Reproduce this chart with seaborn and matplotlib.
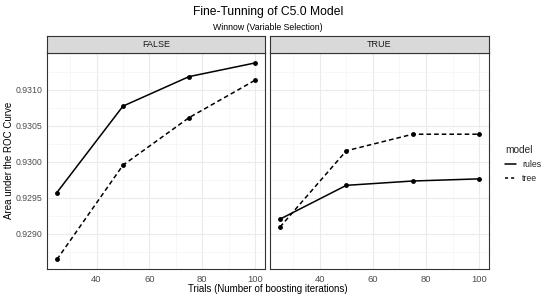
import numpy as np
import pandas as pd
import matplotlib
matplotlib.use("Agg")
import matplotlib.pyplot as plt
from matplotlib.lines import Line2D
import seaborn as sns

trials = [25, 50, 75, 100]
rules_false = [0.92957, 0.93077, 0.93118, 0.93137]
tree_false = [0.92864, 0.92995, 0.93061, 0.93113]
rules_true = [0.92920, 0.92967, 0.92973, 0.92976]
tree_true = [0.92909, 0.93015, 0.93038, 0.93038]
panels = ["FALSE", "TRUE"]

df = pd.concat([
    pd.DataFrame({"trials": trials, "auc": rules_false, "model": "rules", "winnow": "FALSE"}),
    pd.DataFrame({"trials": trials, "auc": tree_false, "model": "tree", "winnow": "FALSE"}),
    pd.DataFrame({"trials": trials, "auc": rules_true, "model": "rules", "winnow": "TRUE"}),
    pd.DataFrame({"trials": trials, "auc": tree_true, "model": "tree", "winnow": "TRUE"}),
])

sns.set_style("white")
plt.rcParams["font.family"] = ["Liberation Sans", "DejaVu Sans"]

W, H = 552, 299
fig = plt.figure(figsize=(W / 100, H / 100), dpi=100)

def box(x0, y0, x1, y1):
    return [x0 / W, 1 - y1 / H, (x1 - x0) / W, (y1 - y0) / H]

lefts = [(47, 265), (270, 489)]
top, bottom = 52.5, 269
strip_top = 36

ylim = (0.928508, 0.931515)
xlim = (21.25, 103.75)

for i, (name, (x0, x1)) in enumerate(zip(panels, lefts)):
    ax = fig.add_axes(box(x0, top, x1, bottom))
    sub = df[df["winnow"] == name]
    sns.lineplot(data=sub, x="trials", y="auc", style="model",
                 dashes={"rules": "", "tree": (3, 2)},
                 markers={"rules": "o", "tree": "o"}, color="black",
                 markersize=3.5, markeredgewidth=0, linewidth=1.1,
                 legend=False, ax=ax)
    ax.set_xlim(xlim)
    ax.set_ylim(ylim)
    ax.set_xticks([40, 60, 80, 100])
    ax.set_xticks([30, 50, 70, 90], minor=True)
    ax.set_yticks([0.9290, 0.9295, 0.9300, 0.9305, 0.9310])
    ax.set_yticks([0.92875, 0.92925, 0.92975, 0.93025, 0.93075, 0.93125], minor=True)
    ax.grid(True, which="major", color="#ebebeb", linewidth=0.8)
    ax.grid(True, which="minor", color="#f4f4f4", linewidth=0.5)
    ax.set_axisbelow(True)
    for s in ax.spines.values():
        s.set_color("#333333")
        s.set_linewidth(0.8)
    ax.tick_params(axis="x", which="major", length=2.5, width=0.6,
                   color="#333333", labelsize=6.8, labelcolor="#4d4d4d", pad=2)
    ax.tick_params(axis="y", which="major", length=2.5, width=0.6,
                   color="#333333", labelsize=6.3, labelcolor="#4d4d4d", pad=1)
    ax.tick_params(axis="both", which="minor", length=0)
    ax.set_xlabel("")
    ax.set_ylabel("")
    if i == 0:
        ax.set_yticklabels(["0.9290", "0.9295", "0.9300", "0.9305", "0.9310"])
    else:
        ax.tick_params(axis="y", which="major", labelleft=False, length=0)
    # strip
    sax = fig.add_axes(box(x0, strip_top, x1, top))
    sax.set_facecolor("#d9d9d9")
    sax.set_xticks([])
    sax.set_yticks([])
    for s in sax.spines.values():
        s.set_color("#333333")
        s.set_linewidth(0.8)
    sax.text(0.5, 0.5, name, ha="center", va="center", fontsize=6.5,
             color="#1a1a1a", transform=sax.transAxes)

fig.text(268 / W, 1 - 12 / H, "Fine-Tunning of C5.0 Model", ha="center",
         va="center", fontsize=8.7, color="black")
fig.text(268 / W, 1 - 27 / H, "Winnow (Variable Selection)", ha="center",
         va="center", fontsize=6.3, color="black")
fig.text(268 / W, 1 - 289 / H, "Trials (Number of boosting iterations)",
         ha="center", va="center", fontsize=7, color="black")
fig.text(9 / W, 1 - 160 / H, "Area under the ROC Curve", ha="center",
         va="center", rotation=90, fontsize=7, color="black")

handles = [Line2D([], [], color="black", linewidth=1.1, linestyle="-"),
           Line2D([], [], color="black", linewidth=1.1, linestyle=(0, (2, 2)))]
fig.legend(handles, ["rules", "tree"], title="model", loc="upper left",
           bbox_to_anchor=(497 / W, 1 - 137 / H), frameon=False, fontsize=6.3,
           title_fontsize=7.3, handlelength=1.3, handletextpad=0.65,
           labelspacing=0.6, alignment="left")

fig.savefig("out.png", dpi=100)
